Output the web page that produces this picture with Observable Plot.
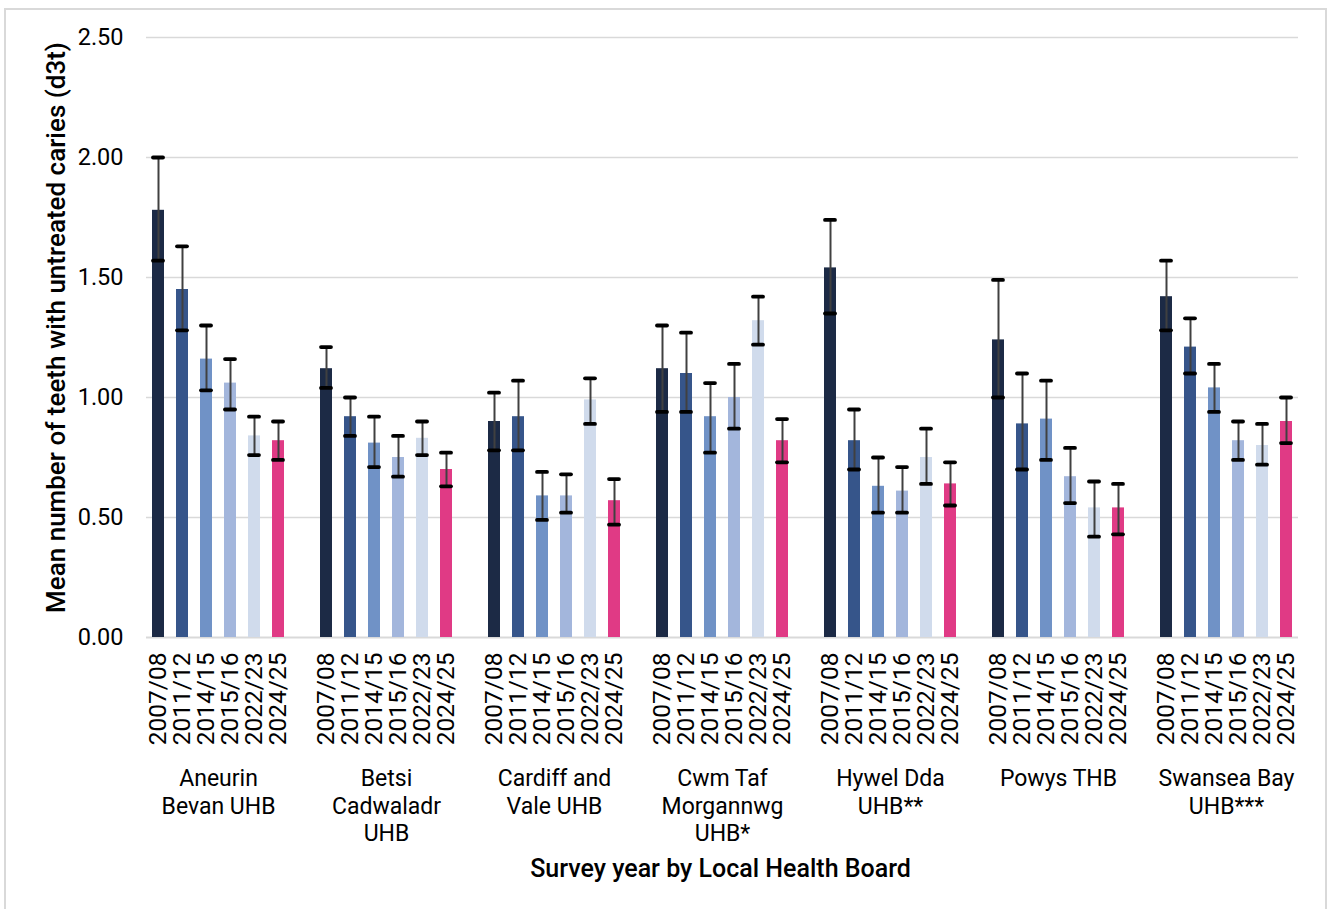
<!DOCTYPE html>
<html>
<head>
<meta charset="utf-8">
<script src="https://cdn.jsdelivr.net/npm/d3@7"></script>
<script src="https://cdn.jsdelivr.net/npm/@observablehq/plot@0.6"></script>
<style>
  body { margin: 0; background: #fff; overflow: hidden; }
  #frame { position: absolute; left: 4px; top: 8px; width: 1323px; height: 940px; border: 2px solid #d9d9d9; box-sizing: border-box; }
  #chart { position: absolute; left: 0; top: 0; }
</style>
</head>
<body>
<div id="frame"></div>
<div id="chart"></div>
<script>
// ---- data ----
const boards = ["Aneurin Bevan UHB", "Betsi Cadwaladr UHB", "Cardiff and Vale UHB", "Cwm Taf Morgannwg UHB*", "Hywel Dda UHB**", "Powys THB", "Swansea Bay UHB***"];
const boardLabels = ["Aneurin\nBevan UHB", "Betsi\nCadwaladr\nUHB", "Cardiff and\nVale UHB", "Cwm Taf\nMorgannwg\nUHB*", "Hywel Dda\nUHB**", "Powys THB", "Swansea Bay\nUHB***"];
const years = ["2007/08", "2011/12", "2014/15", "2015/16", "2022/23", "2024/25"];
const yearColors = ["#1c2a45", "#36558a", "#7092c6", "#a3b6dc", "#d0dbec", "#e03a85"];

const meanValues = [
  [1.78, 1.45, 1.16, 1.06, 0.84, 0.82],
  [1.12, 0.92, 0.81, 0.75, 0.83, 0.70],
  [0.90, 0.92, 0.59, 0.59, 0.99, 0.57],
  [1.12, 1.10, 0.92, 1.00, 1.32, 0.82],
  [1.54, 0.82, 0.63, 0.61, 0.75, 0.64],
  [1.24, 0.89, 0.91, 0.67, 0.54, 0.54],
  [1.42, 1.21, 1.04, 0.82, 0.80, 0.90]
];
const lowerCI = [
  [1.57, 1.28, 1.03, 0.95, 0.76, 0.74],
  [1.04, 0.84, 0.71, 0.67, 0.76, 0.63],
  [0.78, 0.78, 0.49, 0.52, 0.89, 0.47],
  [0.94, 0.94, 0.77, 0.87, 1.22, 0.73],
  [1.35, 0.70, 0.52, 0.52, 0.64, 0.55],
  [1.00, 0.70, 0.74, 0.56, 0.42, 0.43],
  [1.28, 1.10, 0.94, 0.74, 0.72, 0.81]
];
const upperCI = [
  [2.00, 1.63, 1.30, 1.16, 0.92, 0.90],
  [1.21, 1.00, 0.92, 0.84, 0.90, 0.77],
  [1.02, 1.07, 0.69, 0.68, 1.08, 0.66],
  [1.30, 1.27, 1.06, 1.14, 1.42, 0.91],
  [1.74, 0.95, 0.75, 0.71, 0.87, 0.73],
  [1.49, 1.10, 1.07, 0.79, 0.65, 0.64],
  [1.57, 1.33, 1.14, 0.90, 0.89, 1.00]
];
const yTicks = [0, 0.5, 1, 1.5, 2, 2.5];
const xTitle = "Survey year by Local Health Board";
const yTitle = "Mean number of teeth with untreated caries (d3t)";

// ---- derived tables ----
const rows = boards.flatMap((b, i) => years.map((yr, j) => ({
  key: b + "|" + yr, board: b, year: yr,
  mean: meanValues[i][j], lo: lowerCI[i][j], hi: upperCI[i][j]
})));
const xDomain = boards.flatMap((b, i) => {
  const keys = years.map(yr => b + "|" + yr);
  return i < boards.length - 1 ? [...keys, "gap" + i] : keys;
});
const groups = boards.map((b, i) => ({key: b + "|" + years[2], label: boardLabels[i]}));

const FONT = "Roboto, 'Liberation Sans', sans-serif";
const capStyle = {stroke: "#000", strokeWidth: 3.8, strokeLinecap: "round", insetLeft: 1, insetRight: 1};

const chart = Plot.plot({
  width: 1329,
  height: 909,
  marginLeft: 146,
  marginRight: 31,
  marginTop: 37,
  marginBottom: 272,
  style: {fontFamily: FONT, color: "#000", background: "transparent"},
  x: {domain: xDomain, paddingInner: 0.5, paddingOuter: 0.25, axis: null},
  y: {domain: [0, 2.5], axis: null},
  color: {domain: years, range: yearColors},
  marks: [
    Plot.ruleY(yTicks.filter(d => d > 0), {stroke: "#d9d9d9", strokeWidth: 1.5}),
    Plot.ruleY([0], {stroke: "#d9d9d9", strokeWidth: 2}),
    Plot.text(yTicks, {y: d => d, text: d => d.toFixed(2), frameAnchor: "left", dx: -23, textAnchor: "end", fontSize: 23.5, fill: "#000"}),
    Plot.barY(rows, {x: "key", y: "mean", fill: "year"}),
    Plot.ruleX(rows, {x: "key", y1: "lo", y2: "hi", stroke: "#404040", strokeWidth: 2}),
    Plot.tickY(rows, {x: "key", y: "hi", ...capStyle}),
    Plot.tickY(rows, {x: "key", y: "lo", ...capStyle}),
    Plot.text(rows, {x: "key", y: 0, text: "year", rotate: -90, textAnchor: "end", dy: 15, fontSize: 24.5, fill: "#000"}),
    Plot.text(groups, {x: "key", y: 0, text: "label", dx: 12, dy: 129, lineAnchor: "top", lineHeight: 1.2, fontSize: 23, fill: "#000"}),
    Plot.text([xTitle], {frameAnchor: "bottom", text: d => d, dy: 231, dx: -2, lineAnchor: "middle", fontSize: 25, fontWeight: 500, fill: "#000"}),
    Plot.text([yTitle], {frameAnchor: "left", text: d => d, rotate: -90, textAnchor: "middle", dx: -90, dy: -10, lineAnchor: "middle", fontSize: 26, fontWeight: 500, fill: "#000"})
  ]
});
document.getElementById("chart").appendChild(chart);
</script>
</body>
</html>
